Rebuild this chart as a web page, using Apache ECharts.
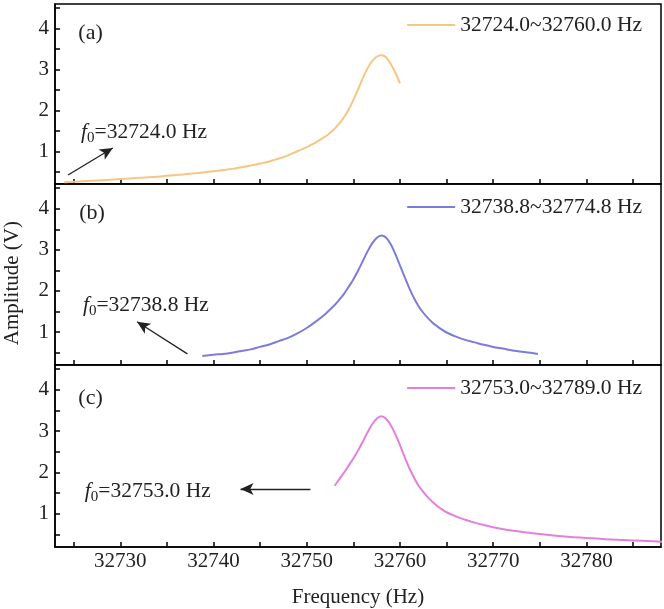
<!DOCTYPE html>
<html><head><meta charset="utf-8">
<script src="https://cdn.jsdelivr.net/npm/echarts@6/dist/echarts.min.js"></script>
<style>html,body{margin:0;padding:0;background:#fff}#c{width:664px;height:609px}</style>
</head><body><div id="c"></div>
<script>
// ---- data ----
const freqA = [32724.0,32726,32728,32730,32732,32734,32736,32738,32740,32741,32742,32743,32744,32745,32746,32747,32748,32749,32750,32750.5,32751,32751.5,32752,32752.5,32753,32753.5,32754,32754.5,32755,32755.5,32756,32756.5,32757,32757.5,32758,32758.5,32759,32759.5,32760.0];
const ampA  = [0.24,0.27,0.29,0.32,0.35,0.38,0.42,0.46,0.51,0.54,0.57,0.61,0.65,0.70,0.75,0.82,0.90,1.00,1.10,1.16,1.22,1.29,1.36,1.45,1.55,1.68,1.83,2.02,2.25,2.51,2.78,3.02,3.20,3.31,3.35,3.30,3.14,2.92,2.66];

const freqB = [32738.8,32740,32741,32742,32743,32744,32745,32746,32747,32748,32749,32750,32751,32752,32752.5,32753,32753.5,32754,32754.5,32755,32755.5,32756,32756.5,32757,32757.5,32758,32758.5,32759,32759.5,32760,32760.5,32761,32761.5,32762,32762.5,32763,32763.5,32764,32764.5,32765,32766,32767,32768,32769,32770,32771,32772.5,32774,32774.8];
const ampB  = [0.42,0.45,0.47,0.50,0.54,0.58,0.64,0.70,0.78,0.86,0.97,1.10,1.26,1.44,1.55,1.66,1.79,1.93,2.10,2.28,2.49,2.72,2.95,3.15,3.29,3.35,3.30,3.14,2.90,2.62,2.34,2.07,1.83,1.63,1.47,1.34,1.23,1.14,1.06,0.99,0.89,0.81,0.75,0.69,0.64,0.60,0.54,0.50,0.47];

const freqC = [32753.0,32753.5,32754,32754.5,32755,32755.5,32756,32756.5,32757,32757.5,32758,32758.5,32759,32759.5,32760,32760.5,32761,32761.5,32762,32762.5,32763,32763.5,32764,32764.5,32765,32766,32767,32768,32769,32770,32772,32774,32776,32778,32780,32782,32784,32786,32789];
const ampC  = [1.68,1.84,2.00,2.17,2.34,2.53,2.74,2.96,3.16,3.30,3.36,3.30,3.15,2.93,2.66,2.38,2.11,1.88,1.68,1.53,1.40,1.29,1.19,1.11,1.04,0.94,0.86,0.79,0.73,0.68,0.60,0.54,0.49,0.45,0.42,0.39,0.37,0.35,0.32];

const seriesNames = ['32724.0~32760.0 Hz','32738.8~32774.8 Hz','32753.0~32789.0 Hz'];
const startFreqText = ['32724.0','32738.8','32753.0'];
const panelLabels = ['(a)','(b)','(c)'];
const xTickLabels = [32730,32740,32750,32760,32770,32780];
const xTicks = [32725,32730,32735,32740,32745,32750,32755,32760,32765,32770,32775,32780,32785];
const yTickLabels = [1,2,3,4];
const yTicks = [0.5,1,1.5,2,2.5,3,3.5,4,4.5];
const colors = ['#F7C584','#7C7CDA','#E47FDB'];

// annotation anchor positions (data coordinates)
const panelLabelPos = [[32725.5,3.89],[32725.6,3.9],[32725.5,3.8]];
const f0TextPos = [[32725.8,1.47],[32726.0,1.66],[32726.2,1.55]];
const arrowFrom = [[32724.4,0.42],[32737.2,0.47],[32750.4,1.6]];
const arrowTo   = [[32729.2,1.08],[32731.8,1.25],[32742.9,1.6]];

const FONT = 'Liberation Serif';
const tops = [4,184,365];
const heights = [180,181,183];
const freqs = [freqA,freqB,freqC];
const amps = [ampA,ampB,ampC];

const grids = [], xAxes = [], yAxes = [], series = [], legends = [];
const legendTops = [14,196,377];
for (let i = 0; i < 3; i++) {
  grids.push({left:55, width:606, top:tops[i], height:heights[i], show:true, borderColor:'#000', borderWidth:1.5, backgroundColor:'#fff'});
  xAxes.push({
    type:'value', gridIndex:i, min:32723, max:32788,
    axisLine:{show:true, onZero:false, lineStyle:{color:'#000', width:1.5}},
    axisTick:{show:true, inside:true, length:5, customValues:xTicks, lineStyle:{color:'#000', width:1.5}},
    axisLabel:{show:i===2, customValues:xTickLabels, formatter:v=>String(v), color:'#222', fontFamily:FONT, fontSize:21, margin:4},
    splitLine:{show:false},
    name: i===2 ? 'Frequency (Hz)' : '',
    nameLocation:'middle', nameGap:40,
    nameTextStyle:{color:'#222', fontFamily:FONT, fontSize:21}
  });
  yAxes.push({
    type:'value', gridIndex:i, min:0.2, max:4.6,
    axisLine:{show:true, lineStyle:{color:'#000', width:1.5}},
    axisTick:{show:true, inside:true, length:5, customValues:yTicks, lineStyle:{color:'#000', width:1.5}},
    axisLabel:{customValues:yTickLabels, color:'#222', fontFamily:FONT, fontSize:21, margin:6},
    splitLine:{show:false}
  });
  const data = freqs[i].map((f,k)=>[f, amps[i][k]]);
  series.push({
    name: seriesNames[i], type:'line', xAxisIndex:i, yAxisIndex:i,
    data, smooth:0.35, showSymbol:false, clip:true, animation:false,
    lineStyle:{color:colors[i], width:2}, itemStyle:{color:colors[i]},
    markLine:{
      silent:true, animation:false, label:{show:false},
      lineStyle:{color:'#222', width:1.3, type:'solid'},
      data:[[{coord:arrowFrom[i], symbol:'none'},{coord:arrowTo[i], symbol:'arrow', symbolSize:[9,13]}]]
    },
    markPoint:{
      silent:true, animation:false, symbol:'circle', symbolSize:0,
      data:[
        {coord:panelLabelPos[i], label:{show:true, position:'right', distance:0, formatter:panelLabels[i], color:'#222', fontFamily:FONT, fontSize:22}},
        {coord:f0TextPos[i], label:{show:true, position:'right', distance:0,
          formatter:'{i|f}{s|0}{n|=' + startFreqText[i] + ' Hz}',
          rich:{
            i:{fontStyle:'italic', fontFamily:FONT, fontSize:21.5, color:'#222'},
            s:{fontFamily:FONT, fontSize:15, color:'#222', padding:[12,0,0,0]},
            n:{fontFamily:FONT, fontSize:21.5, color:'#222'}
          }}}
      ]
    }
  });
  legends.push({
    data:[{name:seriesNames[i], icon:'rect'}], right:22, top:legendTops[i], padding:0,
    itemWidth:48, itemHeight:2, selectedMode:false,
    textStyle:{fontFamily:FONT, fontSize:21.5, color:'#222'}
  });
}

const chart = echarts.init(document.getElementById('c'), null, {renderer:'canvas'});
chart.setOption({
  animation:false,
  backgroundColor:'#fff',
  grid:grids, xAxis:xAxes, yAxis:yAxes, series, legend:legends,
  graphic:[{
    type:'text', left:2, top:221, rotation:Math.PI/2,
    style:{text:'Amplitude (V)', fontFamily:FONT, fontSize:21, fill:'#222', textAlign:'center', textVerticalAlign:'middle'}
  }]
});
</script></body></html>
